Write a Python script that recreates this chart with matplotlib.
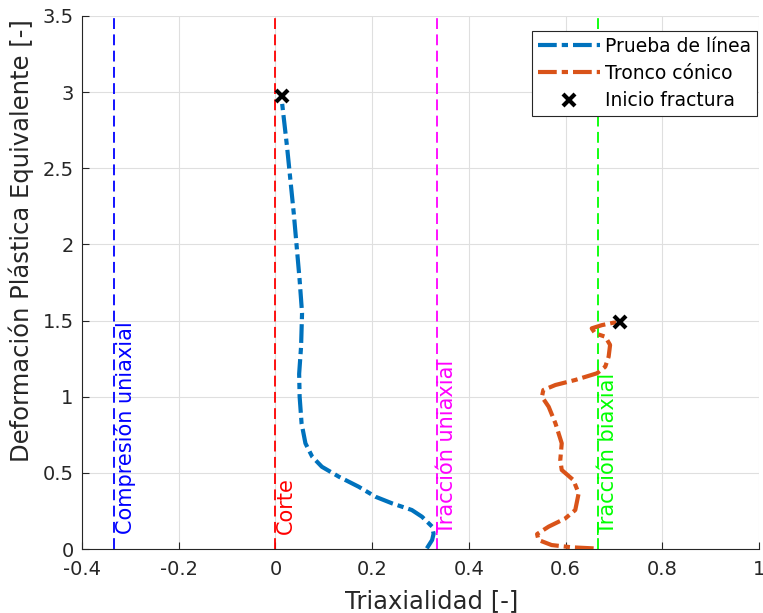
import numpy as np
import matplotlib
matplotlib.use("Agg")
import matplotlib.pyplot as plt
from matplotlib.ticker import FuncFormatter

# datos
linea_x = [0.313, 0.324, 0.327, 0.324, 0.303, 0.282, 0.241, 0.207, 0.172, 0.131,
           0.096, 0.076, 0.062, 0.054, 0.050, 0.049, 0.053, 0.055, 0.050, 0.038,
           0.024, 0.0138, 0.0145]
linea_y = [0.004, 0.059, 0.10, 0.147, 0.212, 0.256, 0.30, 0.343, 0.409, 0.475,
           0.54, 0.606, 0.694, 0.825, 1.00, 1.15, 1.33, 1.55, 1.766,
           2.20, 2.64, 2.926, 2.975]

cono_x = [0.658, 0.613, 0.571, 0.544, 0.541, 0.565, 0.599, 0.620, 0.627, 0.616,
          0.592, 0.589, 0.592, 0.579, 0.565, 0.551, 0.554, 0.579, 0.620, 0.665,
          0.682, 0.689, 0.692, 0.682, 0.661, 0.654, 0.675, 0.699, 0.713]
cono_y = [0.004, 0.011, 0.026, 0.059, 0.098, 0.147, 0.20, 0.256, 0.366, 0.453,
          0.519, 0.585, 0.694, 0.825, 0.934, 1.00, 1.044, 1.077, 1.11, 1.154,
          1.197, 1.263, 1.34, 1.394, 1.416, 1.449, 1.47, 1.486, 1.49]

fractura_x = [0.0145, 0.713]
fractura_y = [2.975, 1.49]

estados = ["Compresión uniaxial", "Corte", "Tracción uniaxial", "Tracción biaxial"]
estados_x = [-1/3, 0, 1/3, 2/3]
estados_col = ["#0000FF", "#FF0000", "#FF00FF", "#00FF00"]

plt.rcParams['font.family'] = ['DejaVu Sans']

fig = plt.figure(figsize=(7.63, 6.13), dpi=100)
ax = fig.add_axes([0.1075, 0.1044, 0.8873, 0.8695])

for xv, txt, c in zip(estados_x, estados, estados_col):
    ax.axvline(xv, color=c, lw=1.3, ls=(0, (6, 3)), zorder=2)
    ax.text(xv + 0.022, 0.1, txt, color=c, rotation=90, ha='center', va='bottom',
            fontsize=15, zorder=3)

ax.plot(linea_x, linea_y, color='#0072BD', lw=3, ls=(0, (4.5, 1.2, 1.5, 1.2)),
        label='Prueba de línea', zorder=4)
ax.plot(cono_x, cono_y, color='#D95319', lw=3, ls=(0, (4.5, 1.2, 1.5, 1.2)),
        label='Tronco cónico', zorder=4)
ax.plot(fractura_x, fractura_y, 'x', color='k', ms=9, mew=3, ls='none',
        label='Inicio fractura', zorder=5)

ax.set_xlim(-0.4, 1)
ax.set_ylim(0, 3.5)
ax.set_xticks(np.arange(-0.4, 1.01, 0.2))
ax.set_yticks(np.arange(0, 3.51, 0.5))
fmt = FuncFormatter(lambda v, p: '%g' % round(v, 2) if abs(v) > 1e-9 else '0')
ax.xaxis.set_major_formatter(fmt)
ax.yaxis.set_major_formatter(fmt)
ax.tick_params(direction='in', labelsize=14, length=5, width=0.8, colors='#262626')
ax.tick_params(axis='x', pad=8)
ax.tick_params(axis='y', pad=6)
ax.grid(True, color='#DFDFDF', lw=0.8)
ax.set_axisbelow(True)
for s in ['top', 'right']:
    ax.spines[s].set_visible(False)
for s in ['left', 'bottom']:
    ax.spines[s].set_color('#262626')

ax.set_xlabel('Triaxialidad [-]', fontsize=17.5, color='#262626', labelpad=6)
ax.set_ylabel('Deformación Plástica Equivalente [-]', fontsize=17.5, color='#262626', labelpad=6)
ax.xaxis.set_label_coords(0.517, -0.075)
ax.yaxis.label.set_y(0.578)

leg = ax.legend(loc='upper right', fontsize=13.5, frameon=True, fancybox=False,
                edgecolor='#262626', framealpha=1, handlelength=3.3,
                borderpad=0.3, labelspacing=0.45, handletextpad=0.3,
                borderaxespad=0, bbox_to_anchor=(0.997, 0.972))
leg.get_frame().set_linewidth(0.8)

fig.savefig('out.png', dpi=100)
